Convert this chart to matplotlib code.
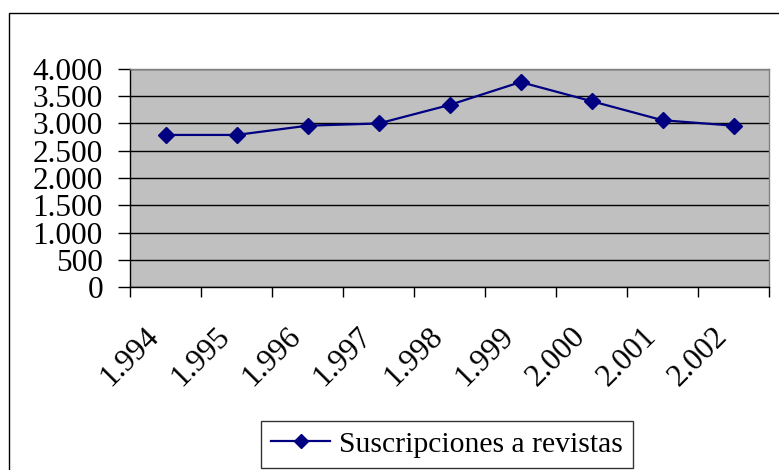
import matplotlib
matplotlib.use("Agg")
import matplotlib.pyplot as plt
from matplotlib.patches import Rectangle
from matplotlib.ticker import FuncFormatter, FixedLocator
from matplotlib.transforms import ScaledTranslation
import numpy as np

years = ["1.994", "1.995", "1.996", "1.997", "1.998", "1.999", "2.000", "2.001", "2.002"]
values = [2790, 2790, 2960, 3000, 3340, 3760, 3410, 3060, 2960]
series_name = "Suscripciones a revistas"
y_ticks = [0, 500, 1000, 1500, 2000, 2500, 3000, 3500, 4000]

plt.rcParams['font.family'] = ['Liberation Serif', 'DejaVu Serif']

W, H = 779, 470
fig = plt.figure(figsize=(W / 100, H / 100), dpi=100)
fig.patch.set_facecolor('white')

# outer chart border
fig.patches.append(Rectangle((9 / W, -0.1), 1.2, 1 - 13 / H + 0.1, transform=fig.transFigure,
                             fill=False, edgecolor='black', linewidth=1.0, zorder=0))

left, right, top, bottom = 130, 769, 69, 287
ax = fig.add_axes([left / W, 1 - bottom / H, (right - left) / W, (bottom - top) / H])
ax.set_facecolor('#C0C0C0')

x = np.arange(len(years)) + 0.5
ax.plot(x, values, color='#000080', linewidth=1.6, marker='D', markersize=8.5,
        markerfacecolor='#000080', markeredgecolor='#000080', label=series_name, zorder=3)

ax.set_xlim(0, len(years))
ax.set_ylim(0, 4000)

ax.yaxis.set_major_locator(FixedLocator(y_ticks))
ax.yaxis.set_major_formatter(FuncFormatter(lambda v, p: f"{int(v):,}".replace(",", ".")))
ax.grid(axis='y', color='black', linewidth=1.0, zorder=1)
ax.set_axisbelow(True)

ax.xaxis.set_major_locator(FixedLocator(np.arange(len(years) + 1)))
ax.xaxis.set_major_formatter(FuncFormatter(lambda v, p: ""))
ax.xaxis.set_minor_locator(FixedLocator(x))
ax.set_xticklabels(years, minor=True)
ax.tick_params(axis='x', which='major', length=7, width=1, color='black', direction='out')
ax.tick_params(axis='x', which='minor', length=0, pad=25, labelsize=22.5)
ax.tick_params(axis='y', which='major', length=8.5, width=1, color='black', direction='out',
               pad=11, labelsize=22.5)
offset = ScaledTranslation(-21 / 100, 0, fig.dpi_scale_trans)
for lbl in ax.get_xticklabels(minor=True):
    lbl.set_rotation(45)
    lbl.set_ha('right')
    lbl.set_va('top')
    lbl.set_rotation_mode('anchor')
    lbl.set_transform(lbl.get_transform() + offset)

for s in ['top', 'right']:
    ax.spines[s].set_color('#808080')
    ax.spines[s].set_linewidth(1.0)
for s in ['left', 'bottom']:
    ax.spines[s].set_color('black')
    ax.spines[s].set_linewidth(1.0)

leg = fig.legend(loc='center', bbox_to_anchor=(447 / W, 1 - 444.5 / H), fontsize=21.3,
                 frameon=True, fancybox=False, edgecolor='black', handlelength=2.0,
                 borderpad=0.35, handletextpad=0.3, markerscale=0.8)
leg.get_frame().set_linewidth(1.0)

fig.savefig("out.png", dpi=100)
